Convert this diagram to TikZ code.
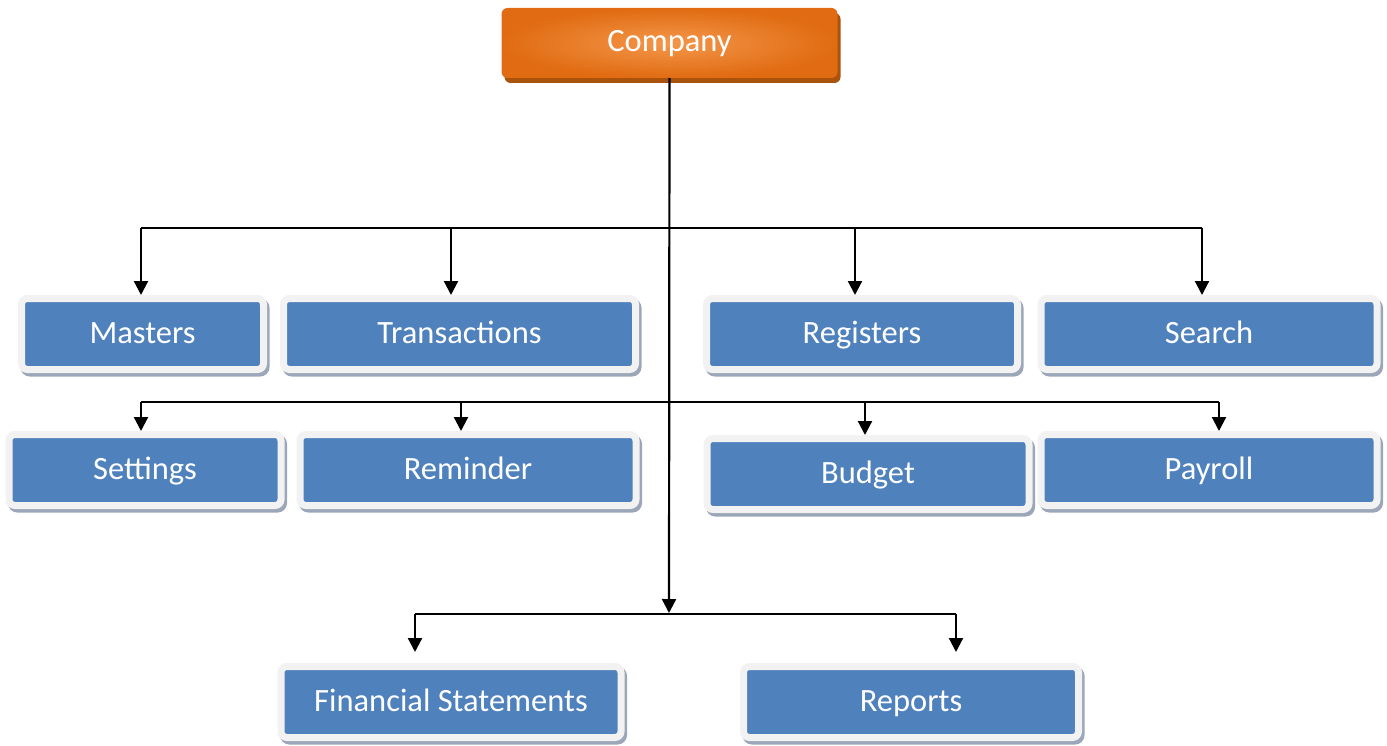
\documentclass[tikz,border=0pt]{standalone}
\usepackage{fontspec}
\setmainfont{Carlito}
\usetikzlibrary{arrows.meta,shadows}
\definecolor{boxblue}{HTML}{4F81BD}
\definecolor{framegray}{HTML}{F2F2F2}
\definecolor{shadowblue}{HTML}{9BA7B8}
\definecolor{orDark}{HTML}{E06B12}
\definecolor{orLight}{HTML}{F4974A}
\definecolor{orShadow}{HTML}{A9530D}
\begin{document}
\begin{tikzpicture}[x=1pt,y=-1pt,
  label/.style={text=white, font=\fontsize{32.5}{36}\selectfont, inner sep=0pt,
    text height=24pt, text depth=6pt},
  box/.style={label, draw=framegray, line width=7pt, fill=boxblue, rounded corners=6pt,
    minimum height=71pt,
    drop shadow={shadow xshift=2.5pt, shadow yshift=-3.5pt, fill=shadowblue, draw=shadowblue, line width=7pt, opacity=1}},
  company/.style={label, rounded corners=6pt, inner color=orLight, outer color=orDark,
    minimum width=336pt, minimum height=70pt,
    drop shadow={shadow xshift=3pt, shadow yshift=-5pt, fill=orShadow, opacity=1}},
  conn/.style={line width=2.2pt, draw=black},
  arr/.style={conn, -{Triangle[width=14pt,length=14pt]}},
]
\useasboundingbox (0,0) rectangle (1387,746);

\node[company] (company) at (669.5,43) {Company};

\node[box, minimum width=242pt] (masters) at (142.5,334) {Masters};
\node[box, minimum width=352pt] (transactions) at (459.5,334) {Transactions};
\node[box, minimum width=311pt] (registers) at (862,334) {Registers};
\node[box, minimum width=336pt] (search) at (1209,334) {Search};

\node[box, minimum width=272pt] (settings) at (145,470) {Settings};
\node[box, minimum width=336pt] (reminder) at (468,470) {Reminder};
\node[box, minimum width=322pt] (budget) at (868,474) {Budget};
\node[box, minimum width=336pt] (payroll) at (1209,470) {Payroll};

\node[box, minimum width=340pt] (fs) at (451,702) {Financial Statements};
\node[box, minimum width=335pt] (reports) at (911,702) {Reports};

% junction coordinates
\coordinate (hub) at (669,613);
\coordinate (a1) at (141,228);
\coordinate (a2) at (451,228);
\coordinate (a3) at (855,228);
\coordinate (a4) at (1202,228);
\coordinate (b1) at (141,402);
\coordinate (b2) at (461,402);
\coordinate (b3) at (865,402);
\coordinate (b4) at (1219,402);
\coordinate (c1) at (415,614);
\coordinate (c2) at (956,614);
\coordinate (c1e) at (415,652);
\coordinate (c2e) at (956,652);

\draw[conn] (a1) -- (a4);
\draw[conn] (b1) -- (b4);
\draw[conn] (c1) -- (c2);
\draw[arr] (company.south) -- (hub);

\draw[arr] (a1) -- (a1 |- masters.north);
\draw[arr] (a2) -- (a2 |- transactions.north);
\draw[arr] (a3) -- (a3 |- registers.north);
\draw[arr] (a4) -- (a4 |- search.north);

\draw[arr] (b1) -- (b1 |- settings.north);
\draw[arr] (b2) -- (b2 |- reminder.north);
\draw[arr] (b3) -- (b3 |- budget.north);
\draw[arr] (b4) -- (b4 |- payroll.north);

\draw[arr] (c1) -- (c1e);
\draw[arr] (c2) -- (c2e);
\end{tikzpicture}
\end{document}
